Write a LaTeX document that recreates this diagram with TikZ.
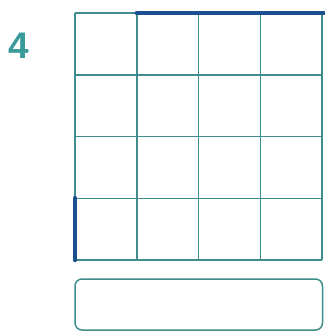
\documentclass[tikz,border=0pt]{standalone}
\usepackage{fontspec}
\setmainfont{Liberation Sans}
\usetikzlibrary{positioning}

\definecolor{gridteal}{HTML}{3F8C8C}
\definecolor{labelteal}{HTML}{3A9A9A}
\definecolor{markblue}{HTML}{1C4F8E}

\begin{document}
\begin{tikzpicture}[x=1pt, y=-1pt,
  gridline/.style={draw=gridteal, line width=1.5pt},
  boldedge/.style={draw=markblue, line width=4.5pt, line cap=round},
  answerbox/.style={draw=gridteal, line width=1.5pt, rounded corners=7pt,
    minimum width=247.5pt, minimum height=51pt, inner sep=0pt}]

\useasboundingbox (0,0) rectangle (324,332);

% Task number
\node[text=labelteal, font=\bfseries\fontsize{37}{40}\selectfont] (num) at (19,46) {4};

% Grid lines
\foreach \i in {0,...,4} {
  \draw[gridline] (75+61.75*\i,13) -- (75+61.75*\i,260);
  \draw[gridline] (75,13+61.75*\i) -- (322,13+61.75*\i);
}

% Highlighted edges
\coordinate (topstart) at (136.75,13);
\coordinate (topend) at (324,13);
\draw[boldedge] (topstart) -- (topend);
\coordinate (leftstart) at (75,198);
\coordinate (leftend) at (75,260);
\draw[boldedge] (leftstart) -- (leftend);

% Answer box
\node[answerbox] (answer) at (198.75,304.5) {};

\end{tikzpicture}
\end{document}
